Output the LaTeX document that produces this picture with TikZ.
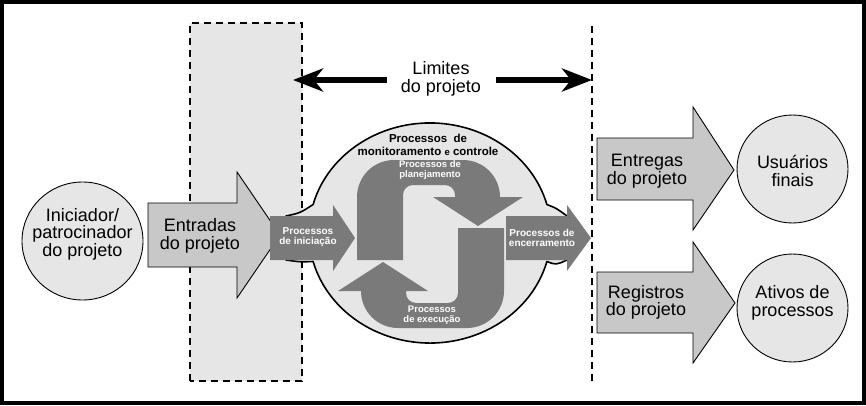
\documentclass[tikz,border=0pt]{standalone}
\usepackage{fontspec}
\setmainfont{Liberation Sans}
\usetikzlibrary{arrows.meta}
\definecolor{lightfill}{HTML}{E6E6E6}
\definecolor{arrowfill}{HTML}{C8C8C8}
\definecolor{procfill}{HTML}{7A7A7A}
\tikzset{
  bigtext/.style={font=\fontsize{18}{17.5}\selectfont, align=center, inner sep=0pt},
  proctext/.style={font=\fontsize{10}{10.5}\selectfont\bfseries, text=white, align=center, inner sep=0pt},
  montext/.style={font=\fontsize{11.5}{13.5}\selectfont\bfseries, align=center, inner sep=0pt},
  bigarrow/.style={fill=arrowfill, draw=black, line width=0.9pt, line join=miter},
  procarrow/.style={fill=procfill},
  endcircle/.style={fill=lightfill, draw=black, line width=0.9pt},
  boundary/.style={line width=1.6pt, dash pattern=on 7pt off 5pt},
  limarrow/.style={line width=6.5pt, -{Stealth[length=30pt,width=23pt,inset=9pt]}},
}
\begin{document}
\begin{tikzpicture}[x=1pt,y=1pt]
\useasboundingbox (0,0) rectangle (866,405);
\fill[white] (0,0) rectangle (866,405);

% project boundary region
\fill[lightfill] (190,24) rectangle (302,382);
\draw[boundary] (190,24) rectangle (302,382);
\draw[boundary, line width=1.4pt] (592,24) -- (592,382);

% limits arrow
\node[bigtext] (lim) at (441,326) {Limites\\do projeto};
\coordinate (limLs) at (387,325);
\coordinate (limLt) at (293,325);
\coordinate (limRs) at (496,325);
\coordinate (limRt) at (592,325);
\draw[limarrow] (limLs) -- (limLt);
\draw[limarrow] (limRs) -- (limRt);

% initiator circle
\draw[endcircle] (82.5,164) ellipse [x radius=60.5, y radius=59];
\node[bigtext] (ini) at (82.5,171) {Iniciador/\\patrocinador\\do projeto};

% central bubble
\draw[fill=lightfill, line width=1.6pt, line join=round]
  (286,189) .. controls (300,192) .. (313.1,200.5)
  arc[start angle=165, end angle=15, x radius=121, y radius=110]
  .. controls (556,197) .. (567,189)
  -- (567,145)
  .. controls (556,140) .. (546.9,143.5)
  arc[start angle=-15, end angle=-165, x radius=121, y radius=110]
  .. controls (300,143) .. (286,145) -- cycle;

% inputs arrow
\draw[bigarrow] (148,138) -- (237,138) -- (237,107) -- (280,170) -- (237,233) -- (237,202) -- (148,202) -- cycle;
\node[bigtext] (ent) at (200,169) {Entradas\\do projeto};

% process arrows
\fill[procarrow] (270,145) -- (333,145) -- (333,134) -- (355,167) -- (333,200) -- (333,189) -- (270,189) -- cycle;
\fill[procarrow] (506,145) -- (567,145) -- (567,134) -- (591,167) -- (567,200) -- (567,189) -- (506,189) -- cycle;
\fill[procarrow] (357,145) -- (357,208) arc[start angle=180, end angle=90, radius=37]
  -- (463,245) arc[start angle=90, end angle=0, radius=37]
  -- (523,208) -- (478,179) -- (433,208) -- (455,208) -- (455,210)
  arc[start angle=0, end angle=90, radius=10] -- (413,220)
  arc[start angle=90, end angle=180, radius=10] -- (403,145) -- cycle;
\begin{scope}[rotate around={180:(430.5,161)}]
\fill[procarrow] (357,145) -- (357,208) arc[start angle=180, end angle=90, radius=37]
  -- (463,245) arc[start angle=90, end angle=0, radius=37]
  -- (523,208) -- (478,179) -- (433,208) -- (455,208) -- (455,210)
  arc[start angle=0, end angle=90, radius=10] -- (413,220)
  arc[start angle=90, end angle=180, radius=10] -- (403,145) -- cycle;
\end{scope}

\node[montext] (mon) at (428,260) {Processos\ \ de\\monitoramento {\fontsize{9.5}{13.5}\selectfont e} controle};
\node[proctext, font=\fontsize{9.5}{10.5}\selectfont\bfseries] (plan) at (430,235) {Processos de\\planejamento};
\node[proctext, font=\fontsize{9.5}{10.5}\selectfont\bfseries] (exec) at (432,90) {Processos\\de execução};
\node[proctext] (inic) at (308,168) {Processos\\de iniciação};
\node[proctext] (enc) at (542,167) {Processos de\\encerramento};

% outputs
\draw[bigarrow] (597,205) -- (693,205) -- (693,175) -- (734,235) -- (693,298) -- (693,267) -- (597,267) -- cycle;
\node[bigtext] (entr) at (647,234) {Entregas\\do projeto};
\draw[bigarrow] (597,72) -- (693,72) -- (693,42) -- (735,102) -- (693,163) -- (693,133) -- (597,133) -- cycle;
\node[bigtext] (reg) at (646,102.5) {Registros\\do projeto};

\draw[endcircle] (792.5,236) ellipse [x radius=55.5, y radius=54];
\node[bigtext] (usu) at (792.5,234) {Usuários\\finais};
\draw[endcircle] (792.5,97) ellipse [x radius=55.5, y radius=54];
\node[bigtext] (ativ) at (792.5,102) {Ativos de\\processos};

% frame
\draw[line width=4pt] (2,2) rectangle (864,403);
\end{tikzpicture}
\end{document}
